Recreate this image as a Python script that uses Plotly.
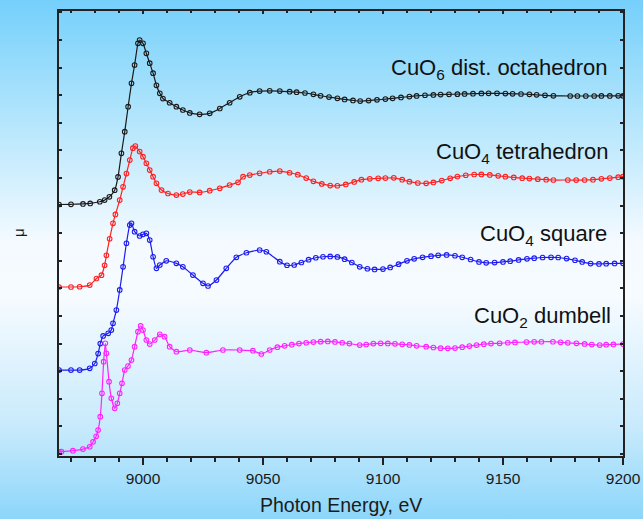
import base64
import plotly.graph_objects as go

# ---------------- data ----------------
e_oct = [8965, 8970, 8975, 8978, 8982, 8984, 8986, 8988.2, 8989.6, 8991.0, 8992.4, 8993.8,
         8995.2, 8996.5, 8997.9, 8998.6, 9000, 9001.4, 9002.8, 9004.2, 9005.6, 9007, 9008.3,
         9011.1, 9013.9, 9016.6, 9019.5, 9023.6, 9027.8, 9032, 9036.1, 9040.3, 9044.5, 9048.6,
         9052.8, 9057, 9061.1, 9064, 9067.5, 9071, 9074, 9077.5, 9081, 9084, 9087.5, 9090.5,
         9094, 9097.5, 9101, 9104, 9107.5, 9111, 9114, 9117.5, 9121, 9124, 9127.5, 9131, 9134,
         9137.5, 9141, 9144, 9147.5, 9151, 9154, 9157.5, 9161, 9164, 9167.5, 9171, 9178, 9181,
         9184.5, 9188, 9191, 9194.5, 9198, 9200]
mu_oct = [0.01, 0.012, 0.015, 0.02, 0.035, 0.05, 0.08, 0.14, 0.26, 0.474, 0.67, 0.896,
          1.108, 1.274, 1.47, 1.50, 1.47, 1.38, 1.29, 1.20, 1.09, 1.017, 0.97,
          0.932, 0.896, 0.866, 0.84, 0.827, 0.836, 0.88, 0.932, 0.986, 1.023, 1.038,
          1.04, 1.038, 1.032, 1.028, 1.02, 1.008, 0.995, 0.983, 0.972, 0.962, 0.953, 0.947,
          0.952, 0.958, 0.965, 0.972, 0.98, 0.988, 0.994, 1.0, 1.003, 1.006, 1.008, 1.01, 1.012,
          1.014, 1.016, 1.017, 1.017, 1.015, 1.013, 1.011, 1.008, 1.004, 0.999, 0.995, 0.993, 0.993,
          0.993, 0.993, 0.994, 0.994, 0.995, 0.995]

e_tet = [8965, 8970, 8973.6, 8977.8, 8980.6, 8982.7, 8984, 8984.75, 8986.1, 8987.5, 8988.5,
         8990.3, 8991.7, 8993.1, 8994.5, 8995.8, 8996.8, 8998.6, 9000, 9001.4, 9002.8, 9004.2,
         9005.6, 9007.7, 9010.4, 9013.9, 9016.6, 9019.5, 9023.6, 9027.8, 9032, 9036.1, 9039.6,
         9041.7, 9044.5, 9048.6, 9052.8, 9057, 9061.1, 9064.5, 9068, 9071, 9074.5, 9078, 9081,
         9084.5, 9088, 9091, 9094.5, 9098, 9101, 9104.5, 9108, 9111, 9114.5, 9118, 9121, 9124.5,
         9128, 9131, 9134.5, 9138, 9141, 9144.5, 9148, 9151, 9154.5, 9158, 9161, 9164.5, 9168,
         9171, 9177, 9180.5, 9184, 9187.5, 9191, 9194.5, 9198, 9200]
mu_tet = [0.013, 0.013, 0.015, 0.03, 0.09, 0.12, 0.21, 0.30, 0.45, 0.59, 0.67,
          0.80, 0.92, 1.04, 1.163, 1.27, 1.29, 1.24, 1.193, 1.133, 1.072, 1.012,
          0.952, 0.891, 0.86, 0.846, 0.855, 0.873, 0.87, 0.885, 0.907, 0.937, 0.961,
          1.012, 1.027, 1.043, 1.057, 1.063, 1.048, 1.03, 1.0, 0.97, 0.947, 0.932, 0.93,
          0.942, 0.965, 0.985, 0.993, 0.997, 1.0, 1.002, 0.985, 0.967, 0.955, 0.952, 0.96, 0.977,
          0.997, 1.013, 1.025, 1.032, 1.033, 1.028, 1.02, 1.012, 1.005, 0.999, 0.995, 0.99, 0.985,
          0.982, 0.982, 0.981, 0.982, 0.985, 0.993, 1.0, 1.008, 1.012]

e_sq = [8965, 8970, 8973.6, 8977.8, 8979.9, 8981.3, 8982.2, 8983.4, 8985.5, 8986.8, 8987.5,
        8988.9, 8990.3, 8991.7, 8993.1, 8994.5, 8995.2, 8996.5, 8998.6, 9000, 9001.4, 9002.8,
        9004.2, 9005.6, 9007, 9009.7, 9013.9, 9016.6, 9020.8, 9025, 9027.1, 9030.6, 9034.7,
        9038.9, 9043.1, 9048.6, 9051.4, 9057, 9060, 9063, 9066, 9069, 9072, 9075, 9078, 9081,
        9084, 9087, 9090.3, 9093.5, 9096.5, 9100, 9103, 9106.5, 9110, 9113, 9116.5, 9120, 9123,
        9126.5, 9130, 9133, 9136.5, 9140, 9143, 9146.5, 9150, 9153, 9156.5, 9160, 9163, 9166.5,
        9170, 9173, 9176.5, 9180, 9183, 9186.5, 9190, 9193, 9196.5, 9200]
mu_sq = [0.01, 0.01, 0.01, 0.026, 0.07, 0.16, 0.25, 0.32, 0.343, 0.373, 0.434,
         0.554, 0.736, 0.946, 1.159, 1.324, 1.34, 1.264, 1.225, 1.24, 1.249, 1.188,
         1.037, 0.932, 0.962, 1.0, 0.977, 0.946, 0.871, 0.796, 0.772, 0.826, 0.932,
         1.032, 1.073, 1.098, 1.082, 0.992, 0.96, 0.962, 0.985, 1.01, 1.028, 1.037, 1.04, 1.035,
         1.015, 0.985, 0.946, 0.928, 0.922, 0.925, 0.94, 0.97, 1.0, 1.018, 1.032, 1.042, 1.05,
         1.053, 1.046, 1.032, 1.012, 0.99, 0.982, 0.984, 0.99, 0.997, 1.008, 1.018, 1.024, 1.03,
         1.032, 1.03, 1.02, 1.005, 0.99, 0.975, 0.972, 0.974, 0.976, 0.977]

e_dum = [8965, 8966, 8970.8, 8975, 8977.8, 8979.2, 8980.5, 8981.3, 8982.2, 8982.9, 8983.6,
         8984.3, 8984.75, 8985.85, 8986.8, 8988.2, 8989.3, 8990.3, 8991.25, 8992.4, 8993.75,
         8995.2, 8996.5, 8997.9, 8999, 9000, 9001.4, 9002.8, 9004.9, 9007, 9009, 9011.1,
         9013.9, 9019.5, 9026.4, 9033.3, 9040.3, 9045.8, 9049.3, 9052.8, 9056, 9059, 9062,
         9065, 9068, 9071, 9074, 9077, 9080, 9083, 9086, 9090.3, 9093, 9096, 9099, 9102, 9105,
         9108, 9111, 9114, 9118, 9121, 9124, 9127, 9130, 9133, 9136, 9139, 9142, 9145, 9148.6,
         9152, 9155, 9159.8, 9163, 9166, 9170.8, 9174, 9177, 9180.6, 9184, 9187, 9190.3, 9193,
         9196, 9200]
mu_dum = [0.02, 0.021, 0.03, 0.045, 0.066, 0.11, 0.16, 0.217, 0.338, 0.55, 0.836,
          1.003, 0.912, 0.655, 0.505, 0.414, 0.459, 0.55, 0.64, 0.761, 0.797,
          0.851, 0.972, 1.108, 1.16, 1.123, 1.033, 0.996, 1.033, 1.084, 1.063, 0.972,
          0.927, 0.942, 0.918, 0.942, 0.942, 0.936, 0.906, 0.942, 0.968, 0.98, 0.99,
          1.0, 1.008, 1.014, 1.018, 1.02, 1.015, 1.008, 1.0, 0.987, 0.992, 1.0, 1.003, 1.002, 0.998,
          0.994, 0.988, 0.98, 0.972, 0.965, 0.959, 0.957, 0.96, 0.968, 0.978, 0.987, 0.995, 1.0, 1.003,
          1.008, 1.011, 1.014, 1.016, 1.017, 1.017, 1.012, 1.007, 1.003, 0.997, 0.991, 0.987, 0.99,
          0.993, 0.996]

offsets = [2.25, 1.5, 0.75, 0.0]
labels = ["CuO<sub>6</sub> dist. octahedron", "CuO<sub>4</sub> tetrahedron",
          "CuO<sub>4</sub> square", "CuO<sub>2</sub> dumbell"]
colors = ["#1a1a1a", "#ff2020", "#1c1cf0", "#ff22ff"]
x_ticks = [9000, 9050, 9100, 9150, 9200]

series = [(e_oct, mu_oct), (e_tet, mu_tet), (e_sq, mu_sq), (e_dum, mu_dum)]

FONT = "Liberation Sans, Arial, sans-serif"

L, R, T, B = 59, 20, 11, 63
W, H = 643, 519
pw, ph = W - L - R, H - T - B

fig = go.Figure()
for (e, mu), off, col, lab in zip(series, offsets, colors, labels):
    fig.add_trace(go.Scatter(
        x=e, y=[m + off for m in mu], mode="lines+markers",
        line=dict(color=col, width=1.2, shape="spline", smoothing=0.5),
        marker=dict(symbol="circle-open", size=4.6, color=col, line=dict(width=1.1)),
        name=lab, showlegend=False, hoverinfo="skip"))

# label annotations (right edge / vertical centre in pixels -> paper)
ann_px = [(609, 69), (610, 153), (609, 235), (613, 317)]
for lab, (px, py) in zip(labels, ann_px):
    fig.add_annotation(text=lab, xref="paper", yref="paper",
                       x=(px - L) / pw, y=(H - B - py) / ph,
                       xanchor="right", yanchor="middle", showarrow=False,
                       font=dict(family=FONT, size=22, color="#111111"))

# axis titles as annotations for exact placement
fig.add_annotation(text="Photon Energy, eV", xref="paper", yref="paper",
                   x=(341 - L) / pw, y=(H - B - 505) / ph, xanchor="center", yanchor="middle",
                   showarrow=False, font=dict(family=FONT, size=19.5, color="#1a1a1a"))
fig.add_annotation(text="μ", xref="paper", yref="paper", textangle=-90,
                   x=(19 - L) / pw, y=(H - B - 233) / ph, xanchor="center", yanchor="middle",
                   showarrow=False, font=dict(family=FONT, size=15, color="#1a1a1a"))

# background gradient as an svg image covering the whole page
svg = ('<svg xmlns="http://www.w3.org/2000/svg" width="643" height="519" preserveAspectRatio="none">'
       '<defs><linearGradient id="g" x1="0" y1="0" x2="0" y2="1">'
       '<stop offset="0" stop-color="rgb(112,206,251)"/>'
       '<stop offset="0.22" stop-color="rgb(175,228,252)"/>'
       '<stop offset="0.46" stop-color="rgb(244,250,255)"/>'
       '<stop offset="0.56" stop-color="rgb(246,251,255)"/>'
       '<stop offset="0.80" stop-color="rgb(200,234,252)"/>'
       '<stop offset="1" stop-color="rgb(128,210,250)"/>'
       '</linearGradient></defs><rect width="643" height="519" fill="url(#g)"/></svg>')
uri = "data:image/svg+xml;base64," + base64.b64encode(svg.encode()).decode()
fig.add_layout_image(source=uri, xref="paper", yref="paper",
                     x=-L / pw - 0.02, y=1 + T / ph + 0.02, sizex=W / pw + 0.06,
                     sizey=H / ph + 0.06, xanchor="left", yanchor="top",
                     sizing="stretch", layer="below")

axcol = "#222222"
fig.update_layout(
    width=W, height=H, margin=dict(l=L, r=R, t=T, b=B, pad=0, autoexpand=False),
    paper_bgcolor="rgba(0,0,0,0)", plot_bgcolor="rgba(0,0,0,0)",
    font=dict(family=FONT, color="#1a1a1a"),
    xaxis=dict(range=[8965, 9200], tickvals=x_ticks, ticks="outside", ticklen=7, tickwidth=1.5,
               tickcolor=axcol, showline=True, linewidth=2, linecolor=axcol, mirror=True,
               showgrid=False, zeroline=False, automargin=False,
               tickfont=dict(size=15.5, color="#1a1a1a"),
               minor=dict(dtick=10, tick0=8970, ticks="outside", ticklen=4, tickwidth=1.5,
                          tickcolor=axcol, showgrid=False)),
    xaxis2=dict(range=[8965, 9200], overlaying="x", side="top", anchor="y",
                tickvals=x_ticks, ticks="inside", ticklen=3, tickwidth=1.5, tickcolor=axcol,
                showticklabels=False, showgrid=False, zeroline=False, showline=False,
                automargin=False,
                minor=dict(dtick=10, tick0=8970, ticks="inside", ticklen=2, tickwidth=1.5,
                           tickcolor=axcol, showgrid=False)),
    yaxis=dict(range=[-0.018, 4.013], dtick=0.25, tick0=0, ticks="inside", ticklen=3,
               tickwidth=1.5, tickcolor=axcol, showticklabels=False, showline=True,
               linewidth=2, linecolor=axcol, mirror="ticks", showgrid=False, zeroline=False,
               automargin=False),
)
# invisible trace so that the top axis is drawn
fig.add_trace(go.Scatter(x=[9000], y=[0], xaxis="x2", mode="markers",
                         marker=dict(opacity=0), showlegend=False, hoverinfo="skip"))

fig.write_html("out.html")
